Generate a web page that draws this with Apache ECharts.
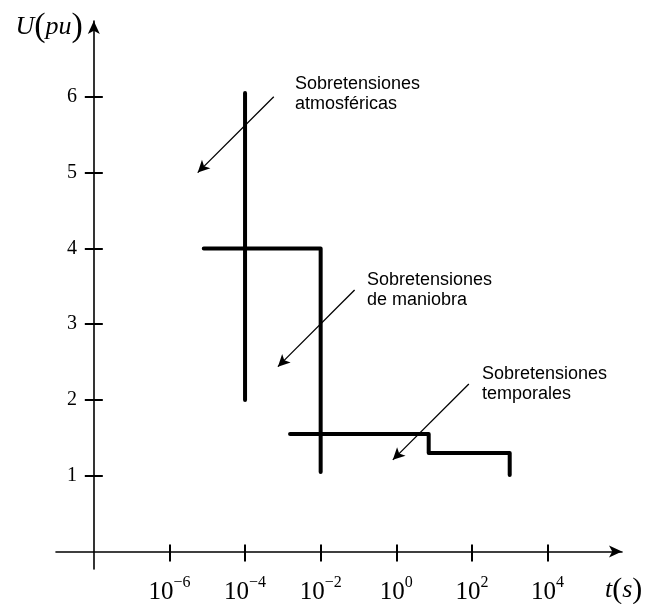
<!DOCTYPE html>
<html><head><meta charset="utf-8">
<script src="https://cdn.jsdelivr.net/npm/echarts@6/dist/echarts.min.js"></script>
<style>html,body{margin:0;padding:0;background:#fff}#c{width:648px;height:604px}</style>
</head><body><div id="c"></div>
<script>
// ---- data (time t in seconds, voltage U in pu) ----
const originExp = -8;            // decade where the U axis crosses the t axis
const tAxisMinExp = -9;
const tAxisMaxExp = 5.97;
const uAxisMin = -0.23;
const uAxisMax = 7;
const tickExps = [-6, -4, -2, 0, 2, 4];
const uTicks = [1, 2, 3, 4, 5, 6];

const atmosT = [1e-4, 1e-4];
const atmosU = [2.0, 6.05];
const maniobraT = [8.1e-6, 1e-2, 1e-2];
const maniobraU = [4.0, 4.0, 1.05];
const temporalT = [1.55e-3, 7.2, 7.2, 1000, 1000];
const temporalU = [1.55, 1.55, 1.30, 1.30, 1.01];

const groupNames = ['Sobretensiones atmosféricas', 'Sobretensiones de maniobra', 'Sobretensiones temporales'];
const groupLabels = ['Sobretensiones\natmosféricas', 'Sobretensiones\nde maniobra', 'Sobretensiones\ntemporales'];
// annotation arrows (start -> tip)
const arrowFromT = [5.75e-4, 0.079, 83];
const arrowFromU = [6.0, 3.45, 2.21];
const arrowToT = [5.6e-6, 7.4e-4, 0.81];
const arrowToU = [5.0, 2.44, 1.21];

// ---- chart ----
const toX = t => Math.log10(t) - originExp;
const pts = (T, U) => T.map((t, i) => [toX(t), U[i]]);
const serif = '"Liberation Serif", "Times New Roman", serif';
const sans = '"Liberation Sans", Arial, sans-serif';

const chart = echarts.init(document.getElementById('c'), null, {renderer: 'canvas'});
const xMin = tAxisMinExp - originExp, xMax = tAxisMaxExp - originExp;
const xTickVals = tickExps.map(e => e - originExp);

const groups = [[atmosT, atmosU], [maniobraT, maniobraU], [temporalT, temporalU]];
const series = groups.map((g, i) => ({
  name: groupNames[i],
  type: 'line',
  data: pts(g[0], g[1]),
  symbol: 'none',
  lineStyle: {color: '#000', width: 4, cap: 'round', join: 'round'},
  animation: false,
  markLine: {
    silent: true,
    animation: false,
    symbol: ['none', 'arrow'],
    symbolSize: [9, 12],
    label: {show: false},
    lineStyle: {color: '#000', width: 1.3, type: 'solid'},
    data: [[{coord: [toX(arrowFromT[i]), arrowFromU[i]]}, {coord: [toX(arrowToT[i]), arrowToU[i]]}]]
  }
}));

const labelLeft = [295, 367, 482];
const labelTop = [74, 270, 364];

chart.setOption({
  backgroundColor: '#fff',
  animation: false,
  grid: {left: 56, right: 26, top: 21, bottom: 35, outerBoundsMode: 'none'},
  xAxis: [{
    type: 'value', min: xMin, max: xMax, position: 'bottom',
    axisLine: {onZero: true, lineStyle: {color: '#000', width: 1.6}, symbol: ['none', 'arrow'], symbolSize: [9, 13]},
    axisTick: {show: true, customValues: xTickVals, length: 10, lineStyle: {color: '#000', width: 2}},
    axisLabel: {
      customValues: xTickVals, margin: 6,
      formatter: v => { const e = Math.round(v + originExp); return '{b|10}{s|' + (e < 0 ? '\u2212' + (-e) : e) + '}'; },
      rich: {
        b: {fontFamily: serif, fontSize: 25, lineHeight: 30, verticalAlign: 'bottom', color: '#000'},
        s: {fontFamily: serif, fontSize: 16, lineHeight: 17, verticalAlign: 'top', color: '#000'}
      }
    },
    splitLine: {show: false},
    name: '{i|t}{p|(}{i|s}{p|)}', nameLocation: 'end', nameGap: -17,
    nameTextStyle: {
      align: 'left', verticalAlign: 'top', padding: [24, 0, 0, 0],
      rich: {
        i: {fontFamily: serif, fontStyle: 'italic', fontSize: 26, color: '#000'},
        p: {fontFamily: serif, fontSize: 30, color: '#000'}
      }
    }
  }, {
    type: 'value', min: xMin, max: xMax, position: 'bottom',
    axisLine: {show: false, onZero: true, onZeroAxisIndex: 0},
    axisTick: {show: true, inside: true, customValues: xTickVals, length: 7, lineStyle: {color: '#000', width: 2}},
    axisLabel: {show: false},
    splitLine: {show: false}
  }],
  yAxis: [{
    type: 'value', min: uAxisMin, max: uAxisMax, position: 'left',
    axisLine: {onZero: true, lineStyle: {color: '#000', width: 1.6}, symbol: ['none', 'arrow'], symbolSize: [9, 13]},
    axisTick: {show: true, customValues: uTicks, length: 9, lineStyle: {color: '#000', width: 2}},
    axisLabel: {customValues: uTicks, margin: -21, fontFamily: serif, fontSize: 20, color: '#000'},
    splitLine: {show: false},
    name: '{i|U}{p|(}{i|pu}{p|)}', nameLocation: 'end', nameGap: -6,
    nameTextStyle: {
      align: 'right', verticalAlign: 'middle', padding: [0, 11, 0, 0],
      rich: {
        i: {fontFamily: serif, fontStyle: 'italic', fontSize: 26, color: '#000'},
        p: {fontFamily: serif, fontSize: 34, color: '#000'}
      }
    }
  }, {
    type: 'value', min: uAxisMin, max: uAxisMax, position: 'left',
    axisLine: {show: false, onZero: true, onZeroAxisIndex: 0},
    axisTick: {show: true, inside: true, customValues: uTicks, length: 9, lineStyle: {color: '#000', width: 2}},
    axisLabel: {show: false},
    splitLine: {show: false}
  }],
  series: series,
  graphic: groupLabels.map((txt, i) => ({
    type: 'text', left: labelLeft[i], top: labelTop[i], silent: true,
    style: {text: txt, fontFamily: sans, fontSize: 18, lineHeight: 20, fill: '#000'}
  }))
});
</script></body></html>
